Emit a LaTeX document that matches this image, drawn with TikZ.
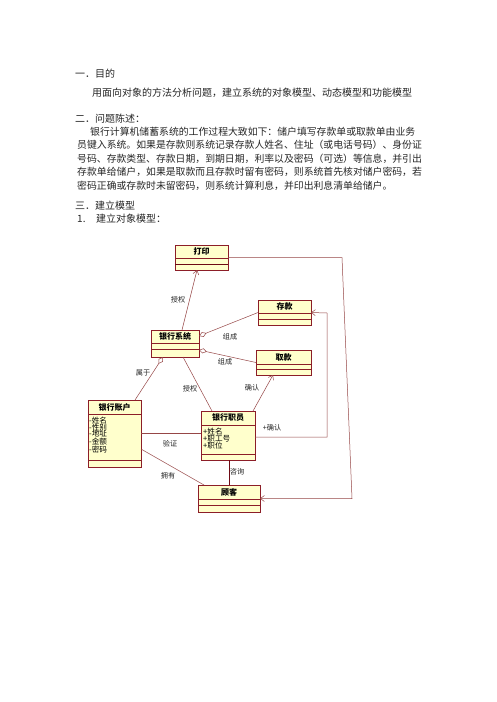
\documentclass[tikz,border=0pt]{standalone}
\usepackage{fontspec}
\newfontfamily\cjk{Noto Sans CJK SC}
\usetikzlibrary{arrows.meta,calc}
\definecolor{rosebox}{RGB}{140,30,40}
\definecolor{roseline}{RGB}{150,70,70}
\definecolor{rosedark}{RGB}{110,10,20}
\definecolor{clsfill}{RGB}{255,255,204}
\tikzset{
  x=1pt,y=-1pt,
  bodytext/.style={anchor=west,inner sep=0pt,font=\cjk\fontsize{10}{11}\selectfont,text=black!85},
  paratext/.style={anchor=west,inner sep=0pt,font=\cjk\fontsize{9.85}{11}\selectfont,text=black!85},
  clsbox/.style={draw=rosebox,fill=clsfill,line width=0.6pt,inner sep=0pt,outer sep=0pt},
  clsline/.style={draw=rosebox,line width=0.6pt},
  clstitle/.style={inner sep=0pt,font=\cjk\bfseries\fontsize{8}{9}\selectfont},
  attr/.style={anchor=west,inner sep=0pt,font=\cjk\fontsize{7.6}{7}\selectfont},
  lbl/.style={inner sep=0pt,font=\cjk\fontsize{7.2}{8}\selectfont,text=black!85},
  conn/.style={draw=roseline,line width=0.5pt},
  arr/.style={-{Straight Barb[length=4pt,width=6pt]}},
  dia/.style={{Diamond[open,length=8pt,width=5pt]}-},
}
\newcommand\umlcls[8]{%
  \node[clsbox,minimum width={#4-#2},minimum height={#5-#3}] (#1) at ({(#2+#4)/2},{(#3+#5)/2}) {};
  \draw[clsline] (#2,#6) -- (#4,#6) (#2,#7) -- (#4,#7);
  \node[clstitle] (#1-t) at ({(#2+#4)/2},{(#3+#6)/2}) {#8};
}
\begin{document}
\begin{tikzpicture}
\fill[white] (0,0) rectangle (496,702);
\useasboundingbox (0,0) rectangle (496,702);

% text
\node[bodytext] (h1) at (75,73.5) {一．目的};
\node[bodytext] (p0) at (92,92.5) {用面向对象的方法分析问题，建立系统的对象模型、动态模型和功能模型};
\node[bodytext] (h2) at (75,119) {二．问题陈述：};
\node[paratext] (p1) at (90,131.5) {银行计算机储蓄系统的工作过程大致如下：储户填写存款单或取款单由业务};
\node[paratext] (p2) at (77,145) {员键入系统。如果是存款则系统记录存款人姓名、住址（或电话号码）、身份证};
\node[paratext] (p3) at (77,158.5) {号码、存款类型、存款日期，到期日期，利率以及密码（可选）等信息，并引出};
\node[paratext] (p4) at (77,172) {存款单给储户，如果是取款而且存款时留有密码，则系统首先核对储户密码，若};
\node[paratext] (p5) at (77,185.5) {密码正确或存款时未留密码，则系统计算利息，并印出利息清单给储户。};
\node[bodytext] (h3) at (75,205.5) {三．建立模型};
\node[bodytext] (h4) at (77,219) {\makebox[19pt][l]{1.}建立对象模型：};

% classes
\umlcls{print}{175}{245}{228}{270}{258}{264}{打印}
\draw[draw=rosedark,line width=1pt] (175,264) -- (228,264);
\umlcls{dep}{258}{300}{311}{325}{313}{319}{存款}
\umlcls{wd}{256}{350}{311}{375}{364.5}{369.5}{取款}
\umlcls{sys}{151}{330}{199}{357}{343}{349}{银行系统}
\umlcls{acct}{88}{400}{141}{467}{414}{460}{银行账户}
\umlcls{clerk}{201}{411}{255}{460}{425}{454}{银行职员}
\umlcls{cust}{198}{485}{260}{512}{499.5}{505.5}{顾客}

% attributes
\node[attr] (a1) at (89,421) {-姓名};
\node[attr] (a2) at (89,427.5) {-性别};
\node[attr] (a3) at (89,434) {-地址};
\node[attr] (a4) at (89,442) {-金额};
\node[attr] (a5) at (89,449.5) {-密码};
\node[attr] (c1) at (203,431.5) {+姓名};
\node[attr] (c2) at (203,438.5) {+职工号};
\node[attr] (c3) at (203,446) {+职位};

% connectors
\draw[conn,arr] ($(sys.north west)+(31,0)$) -- ($(print.south west)+(22,0)$);
\draw[conn,dia] ($(sys.north east)+(0,6)$) -- (dep.west);
\draw[conn,dia] ($(sys.south east)+(0,-7)$) -- (wd.west);
\draw[conn,dia] ($(sys.south west)+(12,0)$) -- ($(acct.north east)+(-6,0)$);
\draw[conn] ($(sys.south west)+(32,0)$) -- ($(clerk.north west)+(11,0)$);
\draw[conn,arr] ($(clerk.north east)+(-2,0)$) -- ($(wd.south west)+(17,0)$);
\coordinate (r1) at (327,437);
\coordinate (r2) at (327,313);
\draw[conn,arr] ($(clerk.north east)+(0,26)$) -- (r1) -- (r2) -- (dep.east);
\draw[conn] ($(acct.north east)+(0,33)$) -- ($(clerk.north west)+(0,22)$);
\draw[conn] ($(acct.north east)+(0,49)$) -- ($(cust.north west)+(6,0)$);
\draw[draw=rosedark,line width=0.9pt] ($(clerk.south west)+(28,0)$) -- ($(cust.north west)+(31,0)$);
\coordinate (q1) at (342,257.5);
\coordinate (q2) at (352,498.5);
\draw[conn,arr] (print.east) -- (q1) -- (q2) -- (cust.east);

% labels
\node[lbl] (l1) at (178,300) {授权};
\node[lbl] (l2) at (230,337) {组成};
\node[lbl] (l3) at (225,362) {组成};
\node[lbl] (l4) at (143,373) {属于};
\node[lbl] (l5) at (190,389) {授权};
\node[lbl] (l6) at (252,388) {确认};
\node[lbl] (l7) at (272,428) {+确认};
\node[lbl] (l8) at (170,444) {验证};
\node[lbl] (l9) at (168,476) {拥有};
\node[lbl] (l10) at (237,472) {咨询};
\end{tikzpicture}
\end{document}
